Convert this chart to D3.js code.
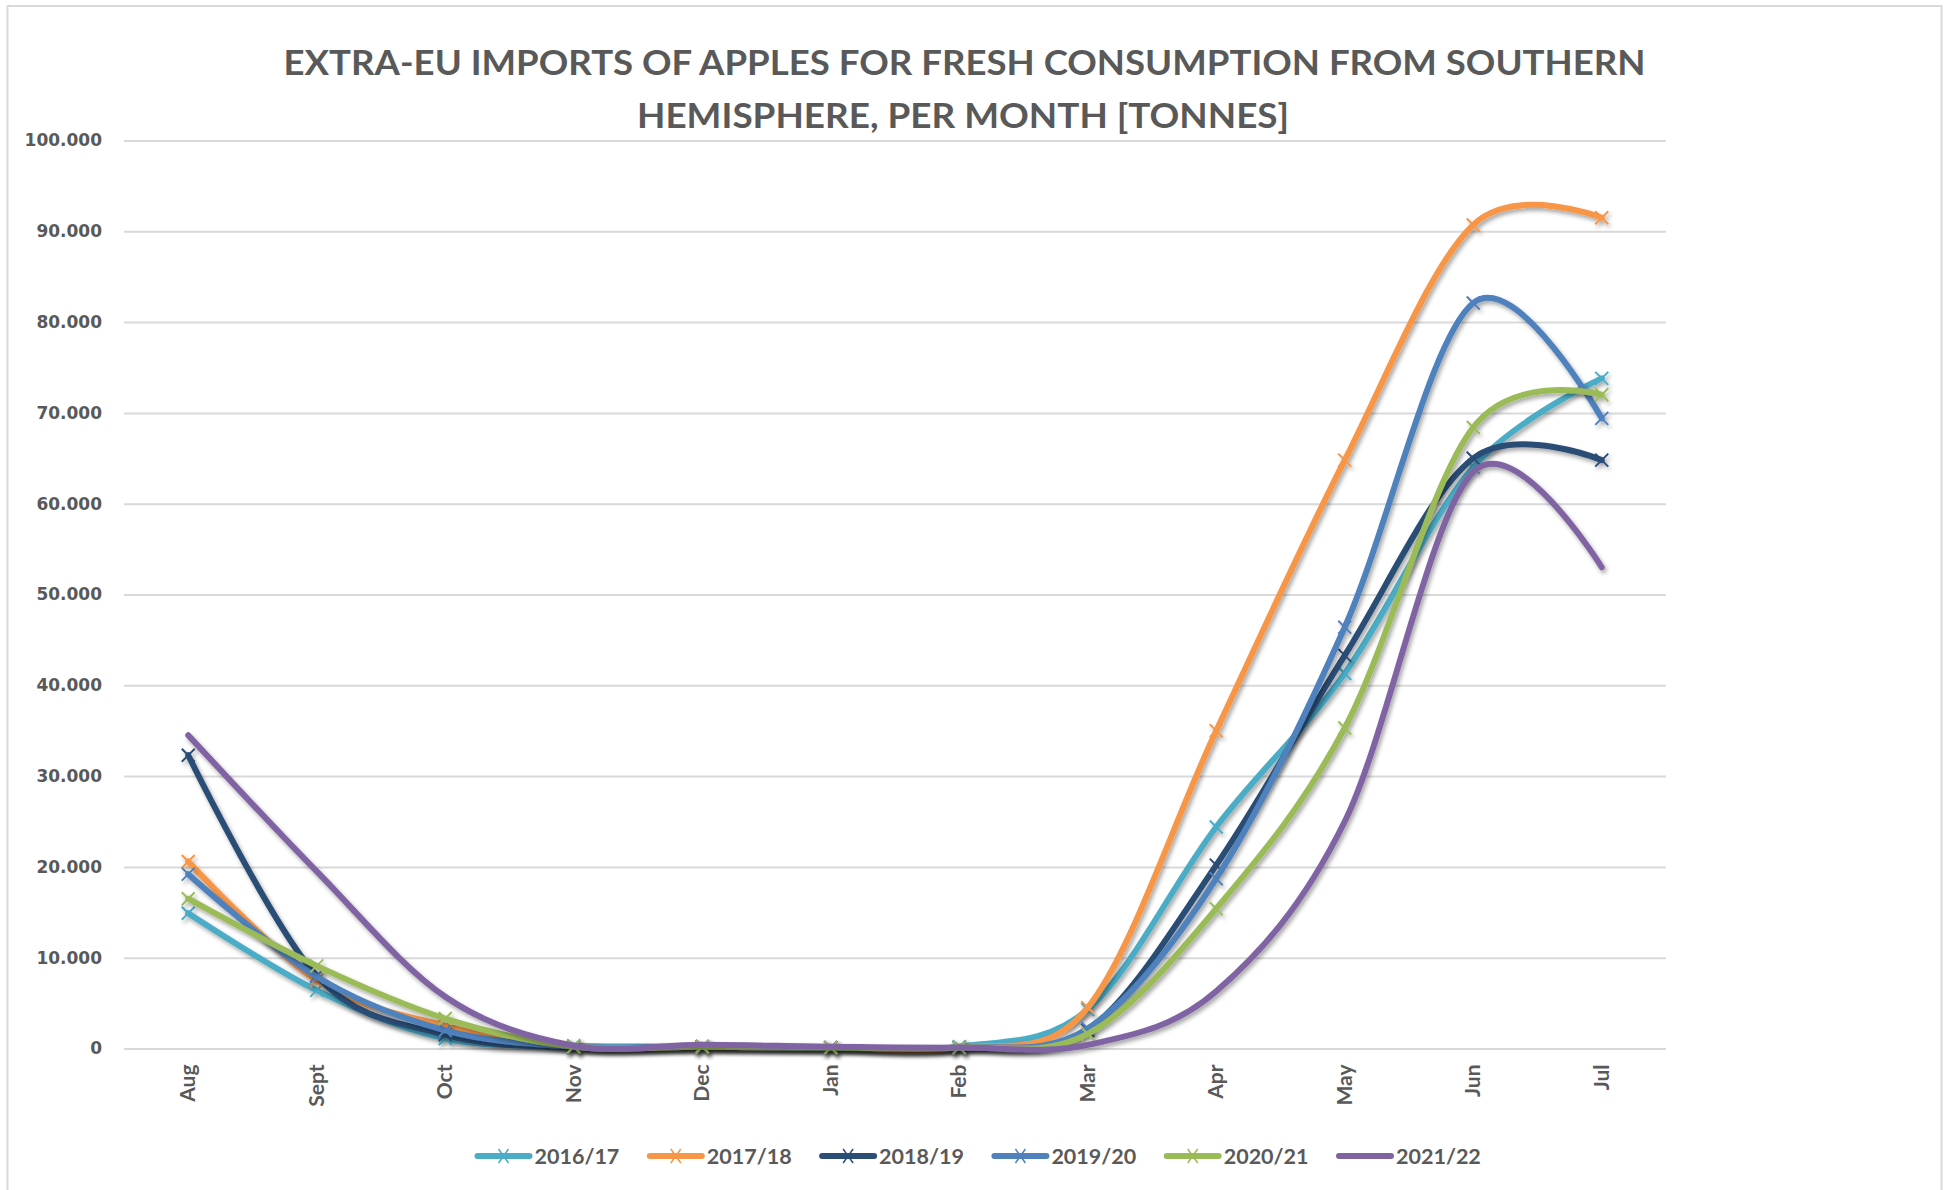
<!DOCTYPE html>
<html>
<head>
<meta charset="utf-8">
<script src="https://cdn.jsdelivr.net/npm/d3@7"></script>
<style>
  html, body { margin: 0; padding: 0; background: #ffffff; }
  svg { display: block; }
</style>
</head>
<body>
<svg id="chart" width="1949" height="1190"></svg>
<script>
// ---------- DATA ----------
const months = ["Aug", "Sept", "Oct", "Nov", "Dec", "Jan", "Feb", "Mar", "Apr", "May", "Jun", "Jul"];
const seriesNames = ["2016/17", "2017/18", "2018/19", "2019/20", "2020/21", "2021/22"];
const s2016_17 = [14900, 6400, 1100, 300, 200, 100, 200, 4300, 24400, 41300, 64000, 73800];
const s2017_18 = [20600, 7500, 2500, 200, 200, 100, 100, 4500, 35000, 64800, 90700, 91500];
const s2018_19 = [32300, 8000, 1500, 100, 200, 100, 100, 2000, 20200, 43300, 65000, 64800];
const s2019_20 = [19200, 7900, 2000, 200, 200, 100, 100, 2200, 18700, 46400, 82100, 69400];
const s2020_21 = [16500, 9100, 3300, 200, 200, 100, 100, 1600, 15400, 35300, 68400, 72000];
const s2021_22 = [34500, 19500, 5700, 300, 400, 200, 100, 400, 6300, 25000, 63500, 53000];
const yTicks = [0, 10000, 20000, 30000, 40000, 50000, 60000, 70000, 80000, 90000, 100000];
const titleLines = ["EXTRA-EU IMPORTS OF APPLES FOR FRESH CONSUMPTION FROM SOUTHERN", "HEMISPHERE, PER MONTH [TONNES]"];

// ---------- STYLE ----------
const colors = ["#4BACC6", "#F79646", "#2C4D75", "#4F81BD", "#9BBB59", "#8064A2"];
const hasMarker = [true, true, true, true, true, false];
const values = [s2016_17, s2017_18, s2018_19, s2019_20, s2020_21, s2021_22];
const textColor = "#595959";
const gridColor = "#d9d9d9";

const svg = d3.select("#chart");

// frame
svg.append("rect")
  .attr("x", 7.5).attr("y", 6).attr("width", 1934).attr("height", 1210)
  .attr("fill", "#fff").attr("stroke", "#d9d9d9").attr("stroke-width", 2);

// shadow filter
const defs = svg.append("defs");
const f = defs.append("filter").attr("id", "shadow")
  .attr("x", "-10%").attr("y", "-10%").attr("width", "120%").attr("height", "120%");
f.append("feDropShadow").attr("dx", 2).attr("dy", 3).attr("stdDeviation", 2)
  .attr("flood-color", "#000").attr("flood-opacity", 0.35);

// scales
const plotLeft = 124, plotRight = 1666, plotTop = 140.5, plotBottom = 1048.5;
const x = d3.scaleBand().domain(months).range([plotLeft, plotRight]);
const y = d3.scaleLinear().domain([0, 100000]).range([plotBottom, plotTop]);
const xc = m => x(m) + x.bandwidth() / 2;

// title
const title = svg.append("g");
title.append("text")
  .attr("x", 964.5).attr("y", 75)
  .attr("text-anchor", "middle")
  .attr("font-family", "Lato, 'Open Sans', sans-serif")
  .attr("font-weight", "bold").attr("font-size", 35)
  .attr("fill", textColor)
  .attr("textLength", 1362).attr("lengthAdjust", "spacingAndGlyphs")
  .text(titleLines[0]);
title.append("text")
  .attr("x", 963).attr("y", 128)
  .attr("text-anchor", "middle")
  .attr("font-family", "Lato, 'Open Sans', sans-serif")
  .attr("font-weight", "bold").attr("font-size", 35)
  .attr("fill", textColor)
  .attr("textLength", 652).attr("lengthAdjust", "spacingAndGlyphs")
  .text(titleLines[1]);

// gridlines + y axis
const yAxis = d3.axisLeft(y)
  .tickValues(yTicks)
  .tickSize(-(plotRight - plotLeft))
  .tickPadding(22)
  .tickFormat(d => d === 0 ? "0" : d3.format(",")(d).replace(/,/g, "."));
const gy = svg.append("g").attr("transform", `translate(${plotLeft},0)`).call(yAxis);
gy.select(".domain").remove();
gy.selectAll(".tick line").attr("stroke", gridColor).attr("stroke-width", 2);
gy.selectAll(".tick text")
  .attr("fill", textColor)
  .attr("font-family", "'DejaVu Sans', sans-serif")
  .attr("font-weight", "bold")
  .attr("font-size", 17);

// x axis labels
const xAxis = d3.axisBottom(x).tickSize(0).tickPadding(0);
const gx = svg.append("g").attr("transform", `translate(0,${plotBottom})`).call(xAxis);
gx.select(".domain").remove();
gx.selectAll(".tick text")
  .attr("fill", textColor)
  .attr("font-family", "Lato, 'Open Sans', sans-serif")
  .attr("font-weight", "bold")
  .attr("font-size", 21)
  .attr("text-anchor", "end")
  .attr("dy", null)
  .attr("transform", "translate(7,16) rotate(-90)");

// lines
const line = d3.line()
  .x((d, i) => xc(months[i]))
  .y(d => y(d))
  .curve(d3.curveCardinal.tension(0));

const xMark = 6.5;
seriesNames.forEach((name, si) => {
  const g = svg.append("g").attr("filter", "url(#shadow)");
  g.append("path")
    .datum(values[si])
    .attr("d", line)
    .attr("fill", "none")
    .attr("stroke", colors[si])
    .attr("stroke-width", 6)
    .attr("stroke-linecap", "round")
    .attr("stroke-linejoin", "round");
  if (hasMarker[si]) {
    g.selectAll("path.mk")
      .data(values[si])
      .join("path")
      .attr("class", "mk")
      .attr("d", (d, i) => {
        const cx = xc(months[i]), cy = y(d);
        return `M${cx - xMark},${cy - xMark}L${cx + xMark},${cy + xMark}M${cx - xMark},${cy + xMark}L${cx + xMark},${cy - xMark}`;
      })
      .attr("stroke", colors[si])
      .attr("stroke-width", 2)
      .attr("fill", "none");
  }
});

// legend
const legendY = 1156;
const legendStart = 474.5, legendPitch = 172.3, swatchW = 58;
const lg = svg.append("g");
seriesNames.forEach((name, si) => {
  const lx = legendStart + si * legendPitch;
  lg.append("line")
    .attr("x1", lx + 3).attr("x2", lx + swatchW - 3)
    .attr("y1", legendY).attr("y2", legendY)
    .attr("stroke", colors[si]).attr("stroke-width", 6)
    .attr("stroke-linecap", "round");
  if (hasMarker[si]) {
    const cx = lx + swatchW / 2, cy = legendY;
    lg.append("path")
      .attr("d", `M${cx - 5},${cy - 7}L${cx + 5},${cy + 7}M${cx - 5},${cy + 7}L${cx + 5},${cy - 7}`)
      .attr("stroke", colors[si]).attr("stroke-width", 1.5).attr("fill", "none");
  }
  lg.append("text")
    .attr("x", lx + swatchW + 2).attr("y", legendY + 8)
    .attr("fill", textColor)
    .attr("font-family", "Lato, 'Open Sans', sans-serif")
    .attr("font-weight", "bold").attr("font-size", 21.5)
    .text(name);
});
</script>
</body>
</html>
